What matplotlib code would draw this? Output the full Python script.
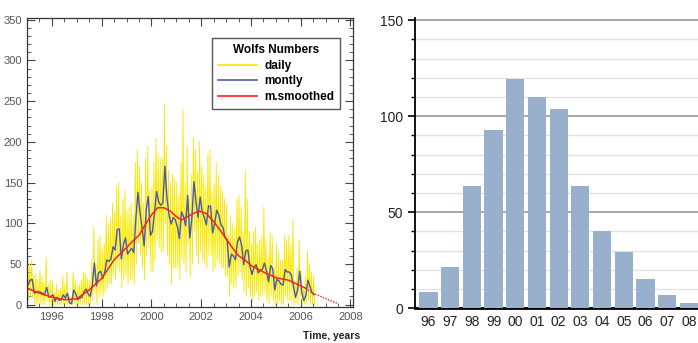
import numpy as np
import matplotlib
matplotlib.use("Agg")
import matplotlib.pyplot as plt
from matplotlib.ticker import MultipleLocator

plt.rcParams['font.family'] = ['Liberation Sans Narrow', 'Liberation Sans', 'DejaVu Sans']

# ---- left panel data: Wolf numbers 1995.0 - 2006.5 ----
start_year = 1995.0

# monthly means
monthly = [24, 30, 31, 14, 15, 16, 15, 14, 12, 21, 9, 10,
           12, 4, 9, 5, 6, 12, 8, 14, 2, 1, 18, 13,
           6, 8, 9, 16, 19, 13, 10, 24, 51, 23, 39, 41,
           32, 40, 55, 53, 56, 71, 67, 92, 93, 56, 74, 82,
           62, 66, 69, 64, 106, 138, 114, 94, 72, 117, 133, 85,
           90, 113, 139, 126, 122, 125, 170, 131, 110, 99, 107, 104,
           96, 81, 114, 108, 97, 134, 82, 106, 151, 126, 107, 132,
           114, 107, 98, 121, 121, 88, 100, 116, 110, 98, 95, 82,
           80, 46, 62, 60, 55, 77, 83, 73, 49, 66, 67, 47,
           37, 46, 49, 39, 42, 43, 51, 41, 28, 48, 44, 18,
           31, 29, 25, 24, 43, 40, 40, 36, 22, 9, 18, 41,
           15, 5, 11, 30, 22, 14, 12]

# daily values: highest and lowest day of each month
daily_hi = [65, 50, 55, 35, 38, 30, 42, 35, 28, 58, 25, 30,
            30, 15, 25, 18, 20, 35, 25, 40, 12, 10, 40, 30,
            22, 25, 30, 40, 38, 32, 30, 55, 95, 50, 80, 85,
            70, 75, 110, 100, 105, 125, 115, 145, 150, 110, 130, 140,
            115, 120, 125, 110, 175, 190, 170, 150, 125, 180, 195, 140,
            145, 175, 205, 185, 180, 180, 246, 195, 165, 150, 160, 155,
            150, 135, 175, 240, 150, 195, 130, 160, 205, 190, 165, 200,
            170, 160, 145, 185, 190, 140, 150, 175, 160, 145, 140, 130,
            125, 85, 110, 100, 95, 130, 135, 120, 90, 165, 130, 90,
            75, 90, 95, 75, 80, 85, 120, 80, 60, 90, 85, 45,
            75, 65, 55, 55, 85, 80, 85, 75, 105, 30, 45, 80,
            40, 20, 35, 65, 50, 40, 35]
daily_lo = [5, 10, 8, 0, 0, 3, 0, 0, 0, 5, 0, 0,
            0, 0, 0, 0, 0, 0, 0, 0, 0, 0, 0, 0,
            0, 0, 0, 0, 0, 0, 0, 5, 15, 0, 10, 12,
            10, 15, 20, 25, 25, 35, 30, 45, 40, 20, 30, 35,
            25, 30, 30, 25, 50, 75, 60, 45, 30, 60, 70, 40,
            40, 55, 80, 70, 65, 65, 100, 60, 50, 25, 45, 45,
            45, 30, 55, 50, 40, 75, 35, 50, 90, 60, 50, 65,
            55, 50, 45, 60, 60, 40, 45, 55, 50, 45, 45, 35,
            35, 10, 25, 20, 20, 35, 40, 30, 15, 10, 20, 10,
            5, 10, 15, 5, 10, 10, 15, 5, 0, 10, 5, 0,
            0, 5, 0, 0, 10, 5, 5, 5, 0, 0, 0, 10,
            0, 0, 0, 5, 0, 0, 0]

# 13-month smoothed, and its forecast
sm_year = [1995.0, 1995.5, 1996.0, 1996.5, 1997.0, 1997.5, 1998.0, 1998.5,
           1999.0, 1999.25, 1999.5, 1999.75, 2000.0, 2000.25, 2000.5, 2000.75,
           2001.0, 2001.2, 2001.5, 2001.9, 2002.2, 2002.5, 2002.75, 2003.0,
           2003.25, 2003.5, 2003.75, 2004.0, 2004.5, 2005.0, 2005.5, 2006.0, 2006.2]
sm_val = [20, 14, 9, 6, 7, 18, 32, 55,
          70, 78, 85, 98, 110, 119, 119, 115,
          108, 104, 109, 115, 112, 102, 92, 81,
          70, 60, 55, 48, 40, 33, 30, 23, 20]
fc_year = [2006.2, 2006.5, 2006.8, 2007.1, 2007.5]
fc_val = [20, 14, 10, 6, 1]

# ---- right panel data: yearly means ----
bar_labels = ['96', '97', '98', '99', '00', '01', '02', '03', '04', '05', '06', '07', '08']
bar_values = [8.3, 21.3, 63.6, 93, 119.6, 110.2, 103.7, 63.6, 40, 29.2, 15.2, 6.9, 2.6]

fig = plt.figure(figsize=(6.98, 3.43), dpi=100)

# left panel
ax1 = fig.add_axes([0.0387, 0.105, 0.467, 0.842])
t_month = start_year + np.arange(len(monthly)) / 12.0
t_daily = np.column_stack([t_month + 0.02, t_month + 0.06]).ravel()
v_daily = np.column_stack([daily_hi, daily_lo]).ravel()
ax1.plot(t_daily, v_daily, color='#f8e800', lw=0.6, label='daily')
ax1.plot(t_month + 1/24, monthly, color='#4a5aa8', lw=1.0, label='montly')
ax1.plot(sm_year, sm_val, color='#ff2020', lw=1.1, label='m.smoothed')
ax1.plot(fc_year, fc_val, color='#ff2020', lw=1.0, ls=(0, (1, 1)))
ax1.set_xlim(1995.0, 2008.1)
ax1.set_ylim(-3, 352)
ax1.xaxis.set_major_locator(MultipleLocator(2))
ax1.xaxis.set_minor_locator(MultipleLocator(0.5))
ax1.yaxis.set_major_locator(MultipleLocator(50))
ax1.yaxis.set_minor_locator(MultipleLocator(10))
ax1.tick_params(which='both', direction='in', top=True, right=True, colors='#444',
                labelcolor='#555', labelsize=8)
ax1.tick_params(which='major', length=6)
ax1.tick_params(which='minor', length=3)
for s in ax1.spines.values():
    s.set_color('#333')
    s.set_linewidth(0.9)
leg = ax1.legend(loc='upper right', bbox_to_anchor=(0.96, 0.93), title='Wolfs Numbers',
                 fancybox=False, framealpha=1, edgecolor='#555', fontsize=8.5,
                 title_fontsize=8.5, handlelength=3.3, handletextpad=0.6,
                 borderpad=0.5, labelspacing=0.3, borderaxespad=0)
leg.get_title().set_fontweight('bold')
leg.get_frame().set_linewidth(1.0)
for txt in leg.get_texts():
    txt.set_fontweight('bold')
for ln in leg.get_lines():
    ln.set_linewidth(1.2)
fig.text(0.434, 0.012, 'Time, years', fontsize=7.5, fontweight='bold', color='#222')

# right panel
ax2 = fig.add_axes([0.5946, 0.101, 0.4054, 0.846])
x = np.arange(len(bar_labels))
ax2.bar(x, bar_values, width=0.84, color='#98b0cb', zorder=3)
ax2.set_xlim(-0.62, 12.42)
ax2.set_ylim(0, 151)
ax2.yaxis.set_major_locator(MultipleLocator(50))
ax2.yaxis.set_minor_locator(MultipleLocator(10))
ax2.grid(axis='y', which='major', color='#999', lw=1.2, zorder=0)
ax2.grid(axis='y', which='minor', color='#e2e2e2', lw=1.0, zorder=0)
ax2.set_xticks(x)
ax2.set_xticklabels(bar_labels)
ax2.tick_params(axis='x', length=0, labelsize=10, pad=5, labelcolor='#222')
ax2.tick_params(axis='y', which='major', length=5, width=1.2, labelsize=10, labelcolor='#222')
ax2.tick_params(axis='y', which='minor', length=3, width=1)
for side in ['top', 'right']:
    ax2.spines[side].set_visible(False)
ax2.spines['left'].set_linewidth(1.3)
ax2.spines['bottom'].set_linewidth(2)

fig.savefig('out.png', dpi=100)
